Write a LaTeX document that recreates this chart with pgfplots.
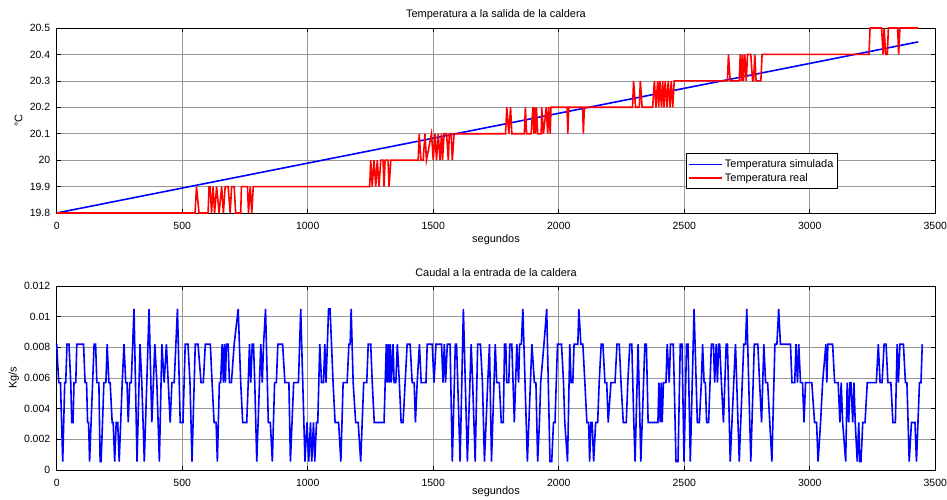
\documentclass[border=0pt]{standalone}
\usepackage{fontspec}
\setmainfont{Liberation Sans}
\usepackage{pgfplots}
\pgfplotsset{compat=1.18}
\definecolor{mblue}{RGB}{0,0,255}
\definecolor{mred}{RGB}{255,0,0}
\pgfplotsset{matlab/.style={
  scale only axis, width=878.6bp, clip=false,
  xmin=0, xmax=3500, xtick={0,500,1000,1500,2000,2500,3000,3500},
  grid=major, grid style={black!40, line width=0.7bp},
  axis line style={line width=0.9bp},
  tick align=inside, tickpos=both, major tick length=4bp,
  tick style={black, line width=0.7bp},
  tick label style={font=\fontsize{10.5}{12}\selectfont},
  /pgf/number format/assume math mode=true,
  /pgf/number format/1000 sep={},
  xticklabel style={yshift=-6bp},
  yticklabel style={xshift=-3bp},
  title style={font=\fontsize{11}{13}\selectfont, anchor=center, yshift=-6pt},
  label style={font=\fontsize{11}{13}\selectfont},
  xlabel=segundos,
}}
\begin{document}
\begin{tikzpicture}
\useasboundingbox (0,0) rectangle (947bp,500bp);
% top: temperature
\begin{axis}[matlab, at={(56.7bp,287bp)}, anchor=south west, height=185bp,
  ymin=19.8, ymax=20.5, ytick={19.8,19.9,20,20.1,20.2,20.3,20.4,20.5},
  title={Temperatura a la salida de la caldera},
  title style={at={(axis description cs:0.5,1.07)}},
  xlabel style={at={(axis description cs:0.5,-0.146)}, anchor=center},
  ylabel={°C}, ylabel style={at={(axis description cs:-0.0434,0.5)}, anchor=center},
  legend style={at={(axis description cs:0.889,0.130)}, anchor=south east,
    draw=black, line width=0.8bp, font=\fontsize{11}{13}\selectfont,
    inner xsep=2bp, inner ysep=4bp},
  legend cell align=left,
  legend image code/.code={\draw[#1] (0bp,0bp) -- (33bp,0bp);},
]
\addplot[mblue, line width=1.6bp] coordinates {(0,19.8)(3432,20.4475)};
\addlegendentry{Temperatura simulada}
\addplot[mred, line width=1.6bp] coordinates {
(0,19.8)(551,19.8)(557,19.9)(567,19.8)
(603,19.8)(607,19.9)(611,19.9)(617,19.8)(623,19.9)(629,19.8)(637,19.9)(647,19.8)(657,19.9)(664,19.8)(671,19.9)(683,19.9)(691,19.8)(697,19.9)(707,19.9)(713,19.8)(733,19.8)(736,19.9)(760,19.9)(764,19.8)(771,19.9)(777,19.8)(783,19.9)
(1247,19.9)(1251,20.0)(1257,19.9)(1264,20.0)(1271,19.9)(1277,20.0)(1284,19.9)(1291,20.0)(1300,20.0)(1304,19.9)(1308,20.0)(1320,20.0)(1324,19.9)(1331,20.0)
(1440,20.0)(1444,20.1)(1451,20.0)(1460,20.0)(1467,20.1)(1473,20.0)(1493,20.1)(1500,20.0)(1507,20.1)(1513,20.0)(1520,20.1)(1527,20.0)(1533,20.1)(1537,20.0)(1543,20.1)(1553,20.1)(1560,20.0)(1564,20.1)(1571,20.1)(1576,20.0)(1583,20.1)
(1788,20.1)(1793,20.2)(1801,20.1)(1808,20.2)(1813,20.1)(1863,20.1)(1867,20.2)(1872,20.1)(1890,20.1)(1897,20.2)(1901,20.1)(1903,20.2)(1907,20.1)(1911,20.2)(1916,20.1)(1930,20.1)(1932,20.2)(1939,20.1)(1950,20.2)(1956,20.1)(1960,20.2)(1966,20.1)(1969,20.2)
(2033,20.2)(2036,20.1)(2040,20.2)(2095,20.2)(2098,20.1)(2102,20.2)
(2294,20.2)(2298,20.3)(2306,20.2)(2321,20.2)(2325,20.3)(2332,20.2)(2374,20.2)(2381,20.3)(2387,20.2)(2394,20.3)(2398,20.2)(2403,20.3)(2409,20.2)(2414,20.3)(2419,20.2)(2424,20.3)(2431,20.2)(2436,20.3)(2443,20.2)(2448,20.3)(2454,20.2)(2460,20.3)
(2672,20.3)(2676,20.4)(2683,20.3)(2719,20.3)(2723,20.4)(2728,20.3)(2732,20.4)(2736,20.3)(2741,20.4)(2747,20.3)(2752,20.4)(2765,20.4)(2772,20.3)(2776,20.3)(2781,20.4)(2786,20.3)(2805,20.3)(2810,20.4)
(3236,20.4)(3240,20.5)(3286,20.5)(3292,20.4)(3296,20.5)(3302,20.4)(3309,20.4)(3313,20.5)(3350,20.5)(3354,20.4)(3359,20.5)(3433,20.5)};
\addlegendentry{Temperatura real}
\end{axis}
% bottom: flow
\begin{axis}[matlab, at={(56.7bp,30bp)}, anchor=south west, height=184bp,
  ymin=0, ymax=0.012, ytick={0,0.002,0.004,0.006,0.008,0.01,0.012},
  scaled y ticks=false,
  yticklabel style={/pgf/number format/fixed, /pgf/number format/precision=3},
  title={Caudal a la entrada de la caldera},
  title style={at={(axis description cs:0.5,1.0707)}},
  xlabel style={at={(axis description cs:0.5,-0.12)}, anchor=center},
  ylabel={Kg/s}, ylabel style={at={(axis description cs:-0.0489,0.5)}, anchor=center},
]
\addplot[mblue, line width=1.6bp] coordinates {
(0,0.0082)(8,0.0057)(15,0.0057)(24,0.00055)(32,0.0057)(36,0.0057)(41,0.0082)(49,0.0082)(56,0.0057)(60,0.0031)(65,0.0031)(69,0.0057)(76,0.0057)(80,0.0082)(107,0.0082)(113,0.0057)(119,0.0057)(123,0.0031)(127,0.0031)(131,0.00055)(149,0.0082)(155,0.0082)(160,0.0057)(168,0.0057)(173,0.00055)(177,0.00055)(188,0.0057)(196,0.0057)(201,0.0082)(208,0.0057)(213,0.0057)(221,0.0031)(225,0.0031)(231,0.00055)(237,0.0031)(243,0.0031)(249,0.00055)(261,0.0057)(268,0.0082)(275,0.0057)(280,0.0057)(285,0.0031)(291,0.0057)(297,0.0057)(308,0.0105)(320,0.00055)(332,0.0082)(339,0.0057)(349,0.00055)(368,0.0105)(379,0.0031)(391,0.0082)(399,0.0057)(409,0.00055)(419,0.0082)(428,0.0057)(437,0.0082)(452,0.0031)(459,0.0057)(468,0.0057)(481,0.0105)(492,0.0031)(503,0.0031)(512,0.0082)(523,0.0082)(531,0.0057)(539,0.00055)(552,0.0082)(563,0.0082)(575,0.0057)(584,0.0057)(592,0.0082)(612,0.0082)(619,0.0057)(627,0.0031)(635,0.0031)(640,0.00055)(648,0.0057)(653,0.0057)(659,0.0082)(664,0.0057)(668,0.0082)(672,0.0057)(676,0.0082)(683,0.0082)(688,0.0057)(696,0.0057)(707,0.0082)(723,0.0105)(733,0.0057)(741,0.0031)(757,0.0031)(763,0.0057)(768,0.0082)(773,0.0057)(779,0.0082)(784,0.0082)(789,0.0057)(797,0.00055)(813,0.0082)(819,0.0057)(824,0.0082)(832,0.0105)(843,0.0031)(851,0.0031)(859,0.00055)(868,0.0057)(875,0.0057)(881,0.0082)(900,0.0082)(909,0.0057)(925,0.0057)(931,0.00055)(944,0.0057)(963,0.0057)(972,0.0105)(989,0.00055)(997,0.0031)(1004,0.00055)(1011,0.0031)(1016,0.00055)(1023,0.0031)(1028,0.00055)(1035,0.0031)(1040,0.0031)(1048,0.0082)(1055,0.0057)(1063,0.0057)(1068,0.0082)(1073,0.0057)(1083,0.0105)(1089,0.0105)(1101,0.0057)(1109,0.0031)(1123,0.0031)(1132,0.00055)(1141,0.0057)(1157,0.0057)(1164,0.0082)(1169,0.0082)(1173,0.0105)(1181,0.0057)(1191,0.0031)(1201,0.0031)(1211,0.00055)(1223,0.0057)(1235,0.0057)(1241,0.0082)(1251,0.0082)(1257,0.0057)(1265,0.0031)(1304,0.0031)(1313,0.0082)(1317,0.0057)(1321,0.0082)(1325,0.0057)(1329,0.0082)(1333,0.0057)(1340,0.0082)(1344,0.0057)(1351,0.0057)(1357,0.0082)(1365,0.0057)(1372,0.0031)(1380,0.0031)(1388,0.0057)(1396,0.0082)(1408,0.0082)(1416,0.0057)(1424,0.0057)(1429,0.0031)(1436,0.0057)(1445,0.0082)(1452,0.0057)(1471,0.0057)(1476,0.0082)(1496,0.0082)(1503,0.0057)(1511,0.0082)(1533,0.0082)(1539,0.0057)(1544,0.0082)(1549,0.0057)(1556,0.0082)(1567,0.0082)(1576,0.00055)(1588,0.0082)(1593,0.0082)(1607,0.00055)(1620,0.0105)(1636,0.00055)(1651,0.0082)(1657,0.0057)(1667,0.00055)(1677,0.0082)(1688,0.0082)(1696,0.0057)(1704,0.00055)(1717,0.0057)(1724,0.0082)(1732,0.00055)(1747,0.0082)(1753,0.0057)(1763,0.0057)(1771,0.0031)(1779,0.0031)(1784,0.0082)(1789,0.0082)(1793,0.0057)(1801,0.0057)(1805,0.0082)(1813,0.0082)(1823,0.0031)(1833,0.0082)(1840,0.0057)(1844,0.0082)(1851,0.0082)(1857,0.0105)(1875,0.00055)(1893,0.0082)(1903,0.0057)(1909,0.0057)(1916,0.00055)(1923,0.0031)(1928,0.0057)(1941,0.0082)(1952,0.0105)(1965,0.00055)(1972,0.00055)(1979,0.0031)(1985,0.0031)(1995,0.0082)(2011,0.0082)(2019,0.0057)(2024,0.0031)(2035,0.00055)(2044,0.0082)(2049,0.0057)(2056,0.0057)(2061,0.0082)(2076,0.0082)(2080,0.0105)(2088,0.0082)(2096,0.0082)(2104,0.0057)(2112,0.0031)(2119,0.0031)(2123,0.00055)(2128,0.0031)(2133,0.0031)(2139,0.00055)(2147,0.0031)(2155,0.0031)(2161,0.0057)(2169,0.0082)(2176,0.0082)(2184,0.0057)(2191,0.0057)(2197,0.0031)(2208,0.0057)(2224,0.0057)(2232,0.0082)(2241,0.0082)(2248,0.0057)(2257,0.0031)(2269,0.0031)(2275,0.0057)(2283,0.0082)(2291,0.0082)(2299,0.0031)(2304,0.00055)(2316,0.0082)(2327,0.00055)(2343,0.0082)(2349,0.0082)(2356,0.0031)(2395,0.0031)(2399,0.0057)(2404,0.0031)(2408,0.0057)(2412,0.0031)(2417,0.0057)(2427,0.0057)(2432,0.0082)(2440,0.0057)(2445,0.0082)(2456,0.0082)(2460,0.0057)(2467,0.00055)(2475,0.00055)(2484,0.0082)(2491,0.0082)(2499,0.00055)(2509,0.0082)(2515,0.0082)(2524,0.00055)(2539,0.0105)(2552,0.0031)(2560,0.0031)(2568,0.0057)(2573,0.0082)(2579,0.0057)(2584,0.0057)(2589,0.0031)(2597,0.0031)(2608,0.0082)(2616,0.0082)(2621,0.0057)(2627,0.0082)(2632,0.0057)(2637,0.0082)(2641,0.0082)(2648,0.0057)(2656,0.0031)(2667,0.0082)(2672,0.0082)(2683,0.00055)(2697,0.0057)(2704,0.0082)(2709,0.0057)(2719,0.00055)(2731,0.0057)(2737,0.0082)(2744,0.0082)(2749,0.0105)(2765,0.00055)(2779,0.0082)(2793,0.0082)(2800,0.0057)(2808,0.0031)(2817,0.0082)(2824,0.0057)(2832,0.0057)(2849,0.00055)(2861,0.0082)(2869,0.0082)(2876,0.0105)(2883,0.0082)(2923,0.0082)(2929,0.0057)(2940,0.0057)(2945,0.0082)(2951,0.0057)(2956,0.0082)(2963,0.0057)(2971,0.0057)(2977,0.0031)(2983,0.0057)(3008,0.0057)(3019,0.0031)(3027,0.0031)(3033,0.00055)(3043,0.0031)(3051,0.0057)(3064,0.0082)(3068,0.0057)(3072,0.0082)(3091,0.0082)(3099,0.0057)(3113,0.0057)(3120,0.0031)(3125,0.0057)(3131,0.0031)(3143,0.00055)(3149,0.0057)(3155,0.0031)(3160,0.0057)(3164,0.0057)(3171,0.0031)(3176,0.0057)(3181,0.0031)(3189,0.00055)(3195,0.0031)(3199,0.00055)(3204,0.00055)(3211,0.0031)(3220,0.0031)(3229,0.0057)(3265,0.0057)(3273,0.0082)(3280,0.0057)(3288,0.0057)(3296,0.0082)(3304,0.0082)(3311,0.0057)(3323,0.0057)(3331,0.0031)(3341,0.0031)(3348,0.0082)(3353,0.0057)(3359,0.0082)(3373,0.0082)(3381,0.0057)(3387,0.0057)(3396,0.00055)(3405,0.0031)(3419,0.0031)(3425,0.00055)(3437,0.0057)(3443,0.0057)(3448,0.0082)};
\end{axis}
\end{tikzpicture}
\end{document}
